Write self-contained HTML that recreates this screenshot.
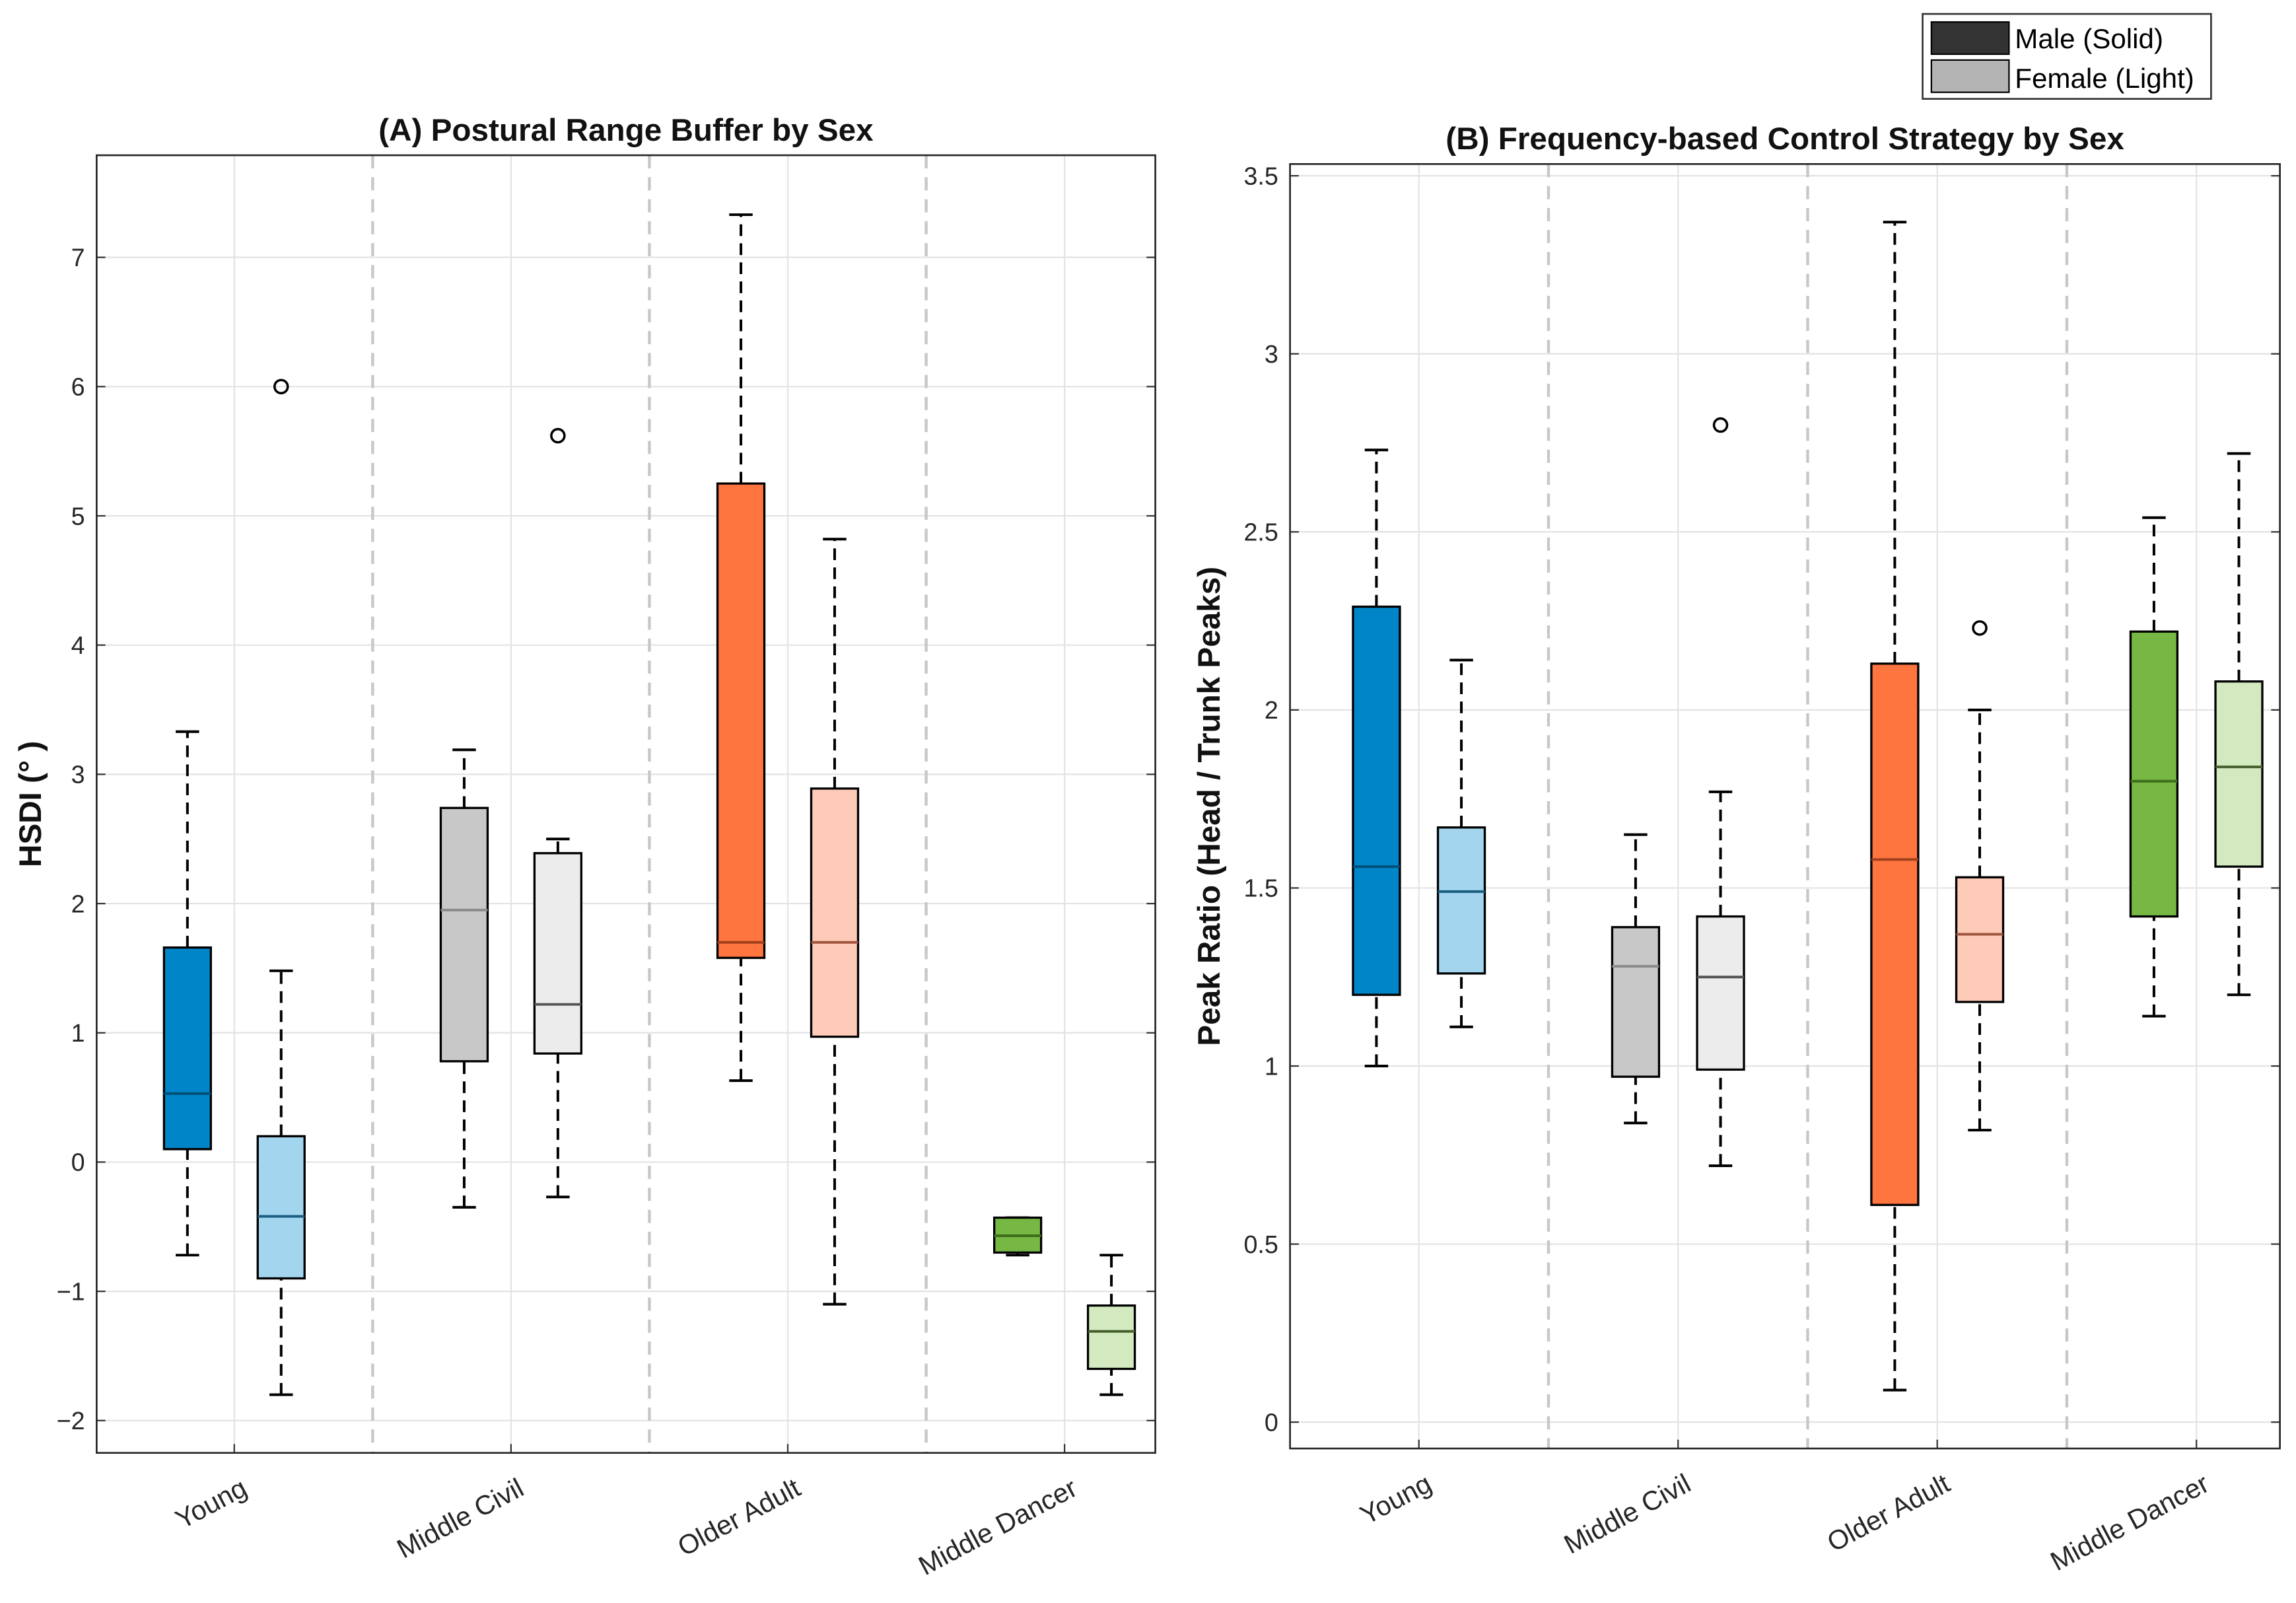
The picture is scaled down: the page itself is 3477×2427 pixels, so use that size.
<!DOCTYPE html>
<html><head><meta charset="utf-8"><style>
html,body{margin:0;padding:0;background:#fff}
svg{display:block;font-family:"Liberation Sans",sans-serif}
</style></head><body>
<svg id="chart" width="3477" height="2427" viewBox="0 0 1568 1094.5" preserveAspectRatio="none" xmlns="http://www.w3.org/2000/svg">
<rect width="1568" height="1094.5" fill="#fff"/>
<g id="legend">
<rect x="1313" y="9.5" width="197" height="58" fill="#fff" stroke="#333" stroke-width="1.2"/>
<rect x="1319" y="15" width="53" height="22" fill="#333" stroke="#000" stroke-width="1"/>
<text x="1376" y="33" font-size="19">Male (Solid)</text>
<rect x="1319" y="41" width="53" height="22" fill="#b4b4b4" stroke="#000" stroke-width="1"/>
<text x="1376" y="60" font-size="19">Female (Light)</text>
</g>
</svg>
<script>
const categories = ["Young","Middle Civil","Older Adult","Middle Dancer"];
// [low, q1, median, q3, high]
const hsdiMale = [[-0.72,0.1,0.53,1.66,3.33],[-0.35,0.78,1.95,2.74,3.19],[0.63,1.58,1.7,5.25,7.33],[-0.72,-0.7,-0.57,-0.43,-0.43]];
const hsdiFemale = [[-1.8,-0.9,-0.42,0.2,1.48],[-0.27,0.84,1.22,2.39,2.5],[-1.1,0.97,1.7,2.89,4.82],[-1.8,-1.6,-1.31,-1.11,-0.72]];
const hsdiMaleOutliers = [[],[],[],[]];
const hsdiFemaleOutliers = [[6.0],[5.62],[],[]];
const peakMale = [[1.0,1.2,1.56,2.29,2.73],[0.84,0.97,1.28,1.39,1.65],[0.09,0.61,1.58,2.13,3.37],[1.14,1.42,1.8,2.22,2.54]];
const peakFemale = [[1.11,1.26,1.49,1.67,2.14],[0.72,0.99,1.25,1.42,1.77],[0.82,1.18,1.37,1.53,2.0],[1.2,1.56,1.84,2.08,2.72]];
const peakMaleOutliers = [[],[],[],[]];
const peakFemaleOutliers = [[],[2.8],[2.23],[]];
const hsdiTicks = [-2,-1,0,1,2,3,4,5,6,7];
const hsdiTickLabels = ["\u22122","\u22121","0","1","2","3","4","5","6","7"];
const peakTicks = [0,0.5,1,1.5,2,2.5,3,3.5];
const peakTickLabels = ["0","0.5","1","1.5","2","2.5","3","3.5"];
const maleFill = ["#0086c8","#c8c8c8","#ff7540","#76b843"];
const maleMed = ["#00507a","#8c8c8c","#a0401c","#3f6e1e"];
const femaleFill = ["#a3d5ee","#ececec","#ffcbb9","#d3e9bf"];
const femaleMed = ["#1a5f80","#555","#a0563e","#46602e"];

const NS="http://www.w3.org/2000/svg";
const svg=document.getElementById('chart');
function mk(tag,attrs,parent){const e=document.createElementNS(NS,tag);for(const k in attrs)e.setAttribute(k,attrs[k]);(parent||svg).appendChild(e);return e;}

function panel(cfg){
  const g=mk('g',{});
  
  
  const {L,R,T,B,ymin,ymax,x0,dx,off}=cfg;
  const y=v=>B-(v-ymin)/(ymax-ymin)*(B-T);
  const xc=i=>x0+i*dx;
  mk('rect',{x:L,y:T,width:R-L,height:B-T,fill:'#fff'},g);
  cfg.ticks.forEach((t,i)=>{
    const gl=mk('line',{x1:L,x2:R,y1:y(t),y2:y(t),stroke:'#e3e3e3','stroke-width':1},g);
    
    
    mk('line',{x1:L,x2:L+6,y1:y(t),y2:y(t),stroke:'#333','stroke-width':1},g);
    mk('line',{x1:R,x2:R-6,y1:y(t),y2:y(t),stroke:'#333','stroke-width':1},g);
    const tl=mk('text',{x:L-8,y:y(t)+6,'font-size':17,'text-anchor':'end',fill:'#262626'},g);
    tl.textContent=cfg.tickLabels[i];
    
    
  });
  categories.forEach((c,i)=>{
    mk('line',{x1:xc(i),x2:xc(i),y1:T,y2:B,stroke:'#e3e3e3','stroke-width':1},g);
    mk('line',{x1:xc(i),x2:xc(i),y1:B,y2:B-6,stroke:'#333','stroke-width':1},g);
    if(i<categories.length-1){
      const sp=mk('line',{x1:xc(i)+dx/2,x2:xc(i)+dx/2,y1:T,y2:B,stroke:'#c8c8c8','stroke-width':2,'stroke-dasharray':'9,6'},g);
      
      
    }
    const lx=xc(i)+10, ly=B+28;
    const t=mk('text',{x:lx,y:ly,'font-size':18.5,'text-anchor':'end',fill:'#262626',transform:`rotate(-28 ${lx} ${ly})`},g);
    t.textContent=c;
    
    
  });
  function box(i,d,o,fill,med,outs,nm){
    const cx=xc(i)+o, w=16;
    const bg=mk('g',{},g);
    
    
    mk('line',{x1:cx,x2:cx,y1:y(d[0]),y2:y(d[1]),stroke:'#000','stroke-width':1.8,'stroke-dasharray':'8,5'},bg);
    mk('line',{x1:cx,x2:cx,y1:y(d[3]),y2:y(d[4]),stroke:'#000','stroke-width':1.8,'stroke-dasharray':'8,5'},bg);
    mk('line',{x1:cx-8,x2:cx+8,y1:y(d[0]),y2:y(d[0]),stroke:'#000','stroke-width':1.8},bg);
    mk('line',{x1:cx-8,x2:cx+8,y1:y(d[4]),y2:y(d[4]),stroke:'#000','stroke-width':1.8},bg);
    mk('rect',{x:cx-w,y:y(d[3]),width:2*w,height:Math.max(1,y(d[1])-y(d[3])),fill:fill,stroke:'#000','stroke-width':1.5},bg);
    mk('line',{x1:cx-w,x2:cx+w,y1:y(d[2]),y2:y(d[2]),stroke:med,'stroke-width':1.8},bg);
    outs.forEach(v=>{
      const c=mk('circle',{cx:cx,cy:y(v),r:4.5,fill:'none',stroke:'#000','stroke-width':1.6},bg);
      
      
    });
  }
  categories.forEach((c,i)=>{
    box(i,cfg.male[i],-off,maleFill[i],maleMed[i],cfg.maleOut[i],'box-male-'+i);
    box(i,cfg.female[i],off,femaleFill[i],femaleMed[i],cfg.femaleOut[i],'box-female-'+i);
  });
  const fr=mk('rect',{x:L,y:T,width:R-L,height:B-T,fill:'none',stroke:'#262626','stroke-width':1.2},g);
  
  
  const tt=mk('text',{x:(L+R)/2,y:T-10,'font-size':21.5,'font-weight':'bold','text-anchor':'middle',fill:'#111'},g);
  tt.textContent=cfg.title;
  
  
  const yl=mk('text',{x:cfg.ylx,y:(T+B)/2,'font-size':21.5,'font-weight':'bold','text-anchor':'middle',fill:'#111',transform:`rotate(-90 ${cfg.ylx} ${(T+B)/2})`},g);
  yl.textContent=cfg.ylabel;
  
  
}
panel({name:'panel-a',L:66,R:789,T:106,B:992,ymin:-2.25,ymax:7.79,x0:160,dx:189,off:32,
  ticks:hsdiTicks,tickLabels:hsdiTickLabels,male:hsdiMale,female:hsdiFemale,maleOut:hsdiMaleOutliers,femaleOut:hsdiFemaleOutliers,
  title:'(A) Postural Range Buffer by Sex',ylabel:'HSDI (\u00B0 )',ylx:28});
panel({name:'panel-b',L:881,R:1557,T:112,B:989,ymin:-0.074,ymax:3.533,x0:969,dx:177,off:29,
  ticks:peakTicks,tickLabels:peakTickLabels,male:peakMale,female:peakFemale,maleOut:peakMaleOutliers,femaleOut:peakFemaleOutliers,
  title:'(B) Frequency-based Control Strategy by Sex',ylabel:'Peak Ratio (Head / Trunk Peaks)',ylx:833});
svg.appendChild(document.getElementById('legend'));
</script>
</body></html>
